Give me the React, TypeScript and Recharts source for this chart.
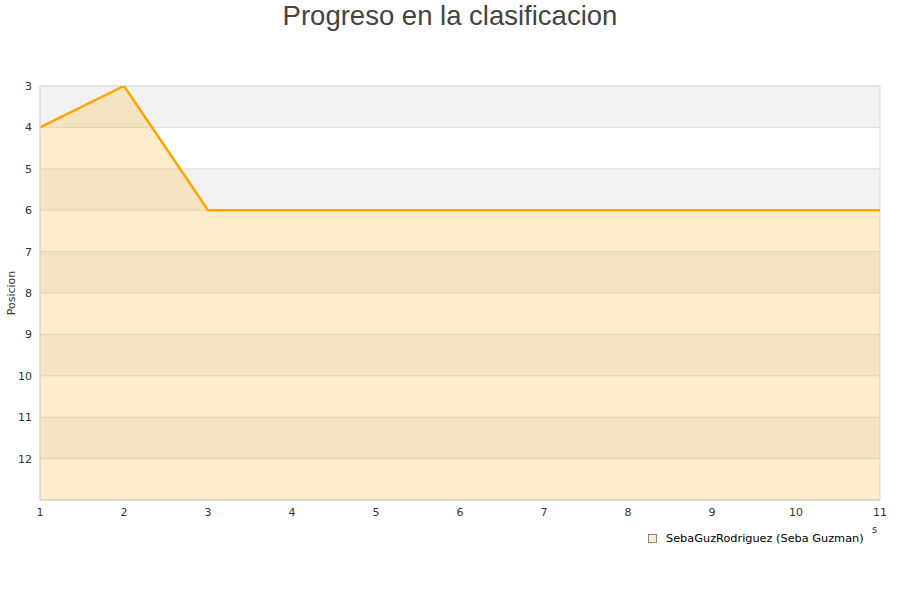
import React from 'react';
import { AreaChart, Area, XAxis, YAxis, CartesianGrid, ReferenceArea } from 'recharts';

// Jornadas y posiciones
const jornadas = [1, 2, 3, 4, 5, 6, 7, 8, 9, 10, 11];
const posiciones = [4, 3, 6, 6, 6, 6, 6, 6, 6, 6, 6];
const yTicks = [3, 4, 5, 6, 7, 8, 9, 10, 11, 12];
const jugador = 'SebaGuzRodriguez (Seba Guzman)';

const chartData = jornadas.map((j, i) => ({ jornada: j, posicion: posiciones[i] }));

const tickStyle = { fontSize: 11, fill: '#333', stroke: 'none', fontFamily: 'DejaVu Sans' };

export default function App() {
  return (
    <div style={{ position: 'absolute', left: 0, top: 0, width: 900, height: 600, background: '#fff' }}>
      <div
        style={{
          position: 'absolute',
          top: 0,
          left: 0,
          width: 900,
          textAlign: 'center',
          fontFamily: 'Liberation Sans',
          fontSize: 27.5,
          color: '#444',
          lineHeight: '32px',
        }}
      >
        Progreso en la clasificacion
      </div>
      <AreaChart
        width={900}
        height={600}
        data={chartData}
        margin={{ top: 86, right: 20, left: 0, bottom: 70 }}
      >
        <CartesianGrid
          vertical={false}
          stroke="#dedede"
          horizontalFill={['#f2f2f2', '#ffffff']}
          fillOpacity={1}
        />
        <XAxis
          dataKey="jornada"
          type="number"
          domain={[1, 11]}
          ticks={jornadas}
          tick={tickStyle}
          tickLine={false}
          axisLine={{ stroke: '#d8d8d8' }}
          height={30}
        />
        <YAxis
          reversed
          type="number"
          domain={[3, 13]}
          ticks={yTicks}
          allowDataOverflow
          tick={tickStyle}
          tickLine={false}
          axisLine={{ stroke: '#d8d8d8' }}
          width={40}
          label={{
            value: 'Posicion',
            angle: -90,
            position: 'insideLeft',
            offset: 11,
            style: { fontSize: 11, fill: '#333', fontFamily: 'DejaVu Sans', textAnchor: 'middle' },
          }}
        />
        <ReferenceArea x1={1} x2={11} y1={3} y2={13} fill="none" stroke="#d8d8d8" strokeWidth={1} />
        <Area
          type="linear"
          dataKey="posicion"
          baseValue={13}
          stroke="#ffa500"
          strokeWidth={2.5}
          fill="#ffa500"
          fillOpacity={0.2}
          dot={false}
          activeDot={false}
          isAnimationActive={false}
        />
      </AreaChart>
      <div
        style={{
          position: 'absolute',
          left: 872,
          top: 524,
          fontFamily: 'DejaVu Sans',
          fontSize: 10,
          color: '#333',
        }}
      >
        s
      </div>
      <div
        style={{
          position: 'absolute',
          left: 648,
          top: 532,
          display: 'flex',
          alignItems: 'center',
          fontFamily: 'DejaVu Sans',
          fontSize: 11.3,
          color: '#000',
        }}
      >
        <span
          style={{
            display: 'inline-block',
            width: 7,
            height: 7,
            background: '#feecce',
            border: '1px solid #888',
            marginRight: 9,
          }}
        />
        {jugador}
      </div>
    </div>
  );
}
